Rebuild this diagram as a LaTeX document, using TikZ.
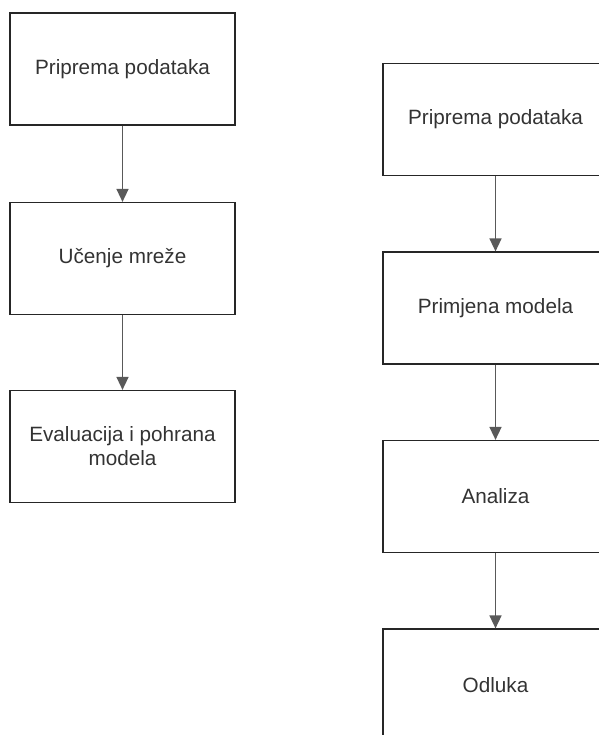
\documentclass[tikz,border=0pt]{standalone}
\usepackage{fontspec}
\setmainfont{Liberation Sans}
\usepackage{tikz}
\usetikzlibrary{arrows.meta}
\definecolor{txtgray}{HTML}{333333}
\definecolor{arrgray}{HTML}{595959}

\begin{document}
\begin{tikzpicture}[x=1pt, y=-1pt,
	box/.style={draw=black!85, line width=1.2pt, minimum width=225pt, minimum height=112pt, inner sep=0pt, align=center, text=txtgray, font=\fontsize{20.7}{24}\selectfont},
	arr/.style={draw=arrgray, line width=1.5pt, -{Triangle[width=12pt,length=13pt]}}]
	\useasboundingbox (0,0) rectangle (598,735);
	% left column
	\node[box] (prep) at (122.5,69) {Priprema podataka};
	\node[box] (ucenje) at (122.5,258.5) {Učenje mreže};
	\node[box] (eval) at (122.5,446.5) {Evaluacija i pohrana\\modela};
	% right column
	\node[box] (prepB) at (495.5,119.5) {Priprema podataka};
	\node[box] (primjena) at (495.5,308) {Primjena modela};
	\node[box] (analiza) at (495.5,496.5) {Analiza};
	\node[box] (odluka) at (495.5,685) {Odluka};
	\draw[arr] (prep) -- (ucenje);
	\draw[arr] (ucenje) -- (eval);
	\draw[arr] (prepB) -- (primjena);
	\draw[arr] (primjena) -- (analiza);
	\draw[arr] (analiza) -- (odluka);
\end{tikzpicture}
\end{document}
